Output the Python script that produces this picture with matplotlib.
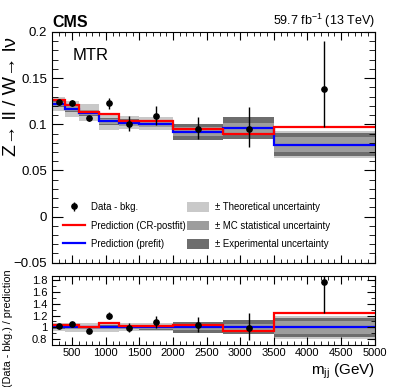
import numpy as np
import matplotlib
matplotlib.use("Agg")
import matplotlib.pyplot as plt
from matplotlib.lines import Line2D
from matplotlib.patches import Patch
from matplotlib.ticker import MultipleLocator

plt.rcParams['font.family'] = ['Liberation Sans', 'DejaVu Sans']
plt.rcParams['mathtext.fontset'] = 'custom'
plt.rcParams['mathtext.rm'] = 'Liberation Sans'
plt.rcParams['mathtext.it'] = 'Liberation Sans'

# ---- data ----
bin_edges = [200, 400, 600, 900, 1200, 1500, 2000, 2750, 3500, 5000]
data_x = [300, 500, 750, 1050, 1350, 1750, 2375, 3125, 4250]
data_y = [0.1244, 0.1230, 0.1064, 0.1230, 0.1008, 0.1093, 0.0954, 0.0952, 0.1384]
data_err_lo = [0.003, 0.003, 0.003, 0.006, 0.008, 0.010, 0.011, 0.020, 0.041]
data_err_hi = [0.003, 0.003, 0.003, 0.006, 0.008, 0.010, 0.013, 0.024, 0.052]
pred_prefit = [0.1219, 0.1168, 0.1125, 0.1031, 0.1017, 0.1006, 0.0920, 0.0960, 0.0780]
pred_postfit = [0.1266, 0.1210, 0.1135, 0.1110, 0.1035, 0.1035, 0.0949, 0.0898, 0.0966]
rel_unc_theory = [0.066, 0.075, 0.080, 0.085, 0.068, 0.070, 0.060, 0.080, 0.190]
rel_unc_exp = [0.025, 0.030, 0.030, 0.035, 0.035, 0.040, 0.094, 0.120, 0.165]
rel_unc_mc = [0.020, 0.025, 0.025, 0.030, 0.030, 0.035, 0.050, 0.060, 0.110]

edges = np.array(bin_edges, float)
dx = np.array(data_x, float)
dy = np.array(data_y)
elo = np.array(data_err_lo)
ehi = np.array(data_err_hi)
pre = np.array(pred_prefit)
post = np.array(pred_postfit)
unc = [(np.array(rel_unc_theory), '#c9c9c9'),
       (np.array(rel_unc_exp), '#6d6d6d'),
       (np.array(rel_unc_mc), '#9d9d9d')]

W, H = 399, 387
fig = plt.figure(figsize=(W / 100, H / 100), dpi=100)
ax = fig.add_axes([52 / W, 1 - 262.7 / H, 322.7 / W, 230.7 / H])
axr = fig.add_axes([52 / W, 1 - 345 / H, 322.7 / W, 69 / H])

# main panel
for rel, col in unc:
    ax.stairs(pre * (1 + rel), edges, baseline=pre * (1 - rel), fill=True, color=col, lw=0)
ax.stairs(pre, edges, color='#0000ff', lw=1.6, baseline=None)
ax.stairs(post, edges, color='#ff0000', lw=1.6, baseline=None)
ax.errorbar(dx, dy, yerr=[elo, ehi], fmt='o', color='black', ms=3.8, elinewidth=1.0, capsize=0)

ax.set_xlim(200, 5000)
ax.set_ylim(-0.05, 0.2)
ax.yaxis.set_major_locator(MultipleLocator(0.05))
ax.yaxis.set_minor_locator(MultipleLocator(0.01))
ax.xaxis.set_major_locator(MultipleLocator(500))
ax.xaxis.set_minor_locator(MultipleLocator(100))
ax.set_yticks([-0.05, 0, 0.05, 0.1, 0.15, 0.2])
ax.set_yticklabels(['\u22120.05', '0', '0.05', '0.1', '0.15', '0.2'])
ax.tick_params(axis='both', which='both', direction='in', top=True, right=True, labelsize=9.5)
ax.tick_params(axis='y', which='major', length=8)
ax.tick_params(axis='y', which='minor', length=4)
ax.tick_params(axis='x', which='major', length=6)
ax.tick_params(axis='x', which='minor', length=3)
ax.tick_params(axis='x', labelbottom=False)
ax.set_ylabel('Z\u2192 ll / W\u2192 l\u03bd', fontsize=14)
ax.yaxis.set_label_coords(-0.1, 0.72)

ax.text(0, 1.01, 'CMS', transform=ax.transAxes, fontsize=11.5, fontweight='bold', ha='left', va='bottom')
ax.text(1, 1.01, '59.7 fb$^{-1}$ (13 TeV)', transform=ax.transAxes, fontsize=9, ha='right', va='bottom')
ax.text(0.065, 0.9, 'MTR', transform=ax.transAxes, fontsize=12, ha='left', va='center')

handles = [
    ax.errorbar([], [], yerr=[], fmt='o', color='black', ms=3.8, elinewidth=1.0, capsize=2),
    Line2D([], [], color='#ff0000', lw=1.6),
    Line2D([], [], color='#0000ff', lw=1.6),
    Patch(facecolor='#c9c9c9', edgecolor='none'),
    Patch(facecolor='#9d9d9d', edgecolor='none'),
    Patch(facecolor='#6d6d6d', edgecolor='none'),
]
labels = ['Data - bkg.', 'Prediction (CR-postfit)', 'Prediction (prefit)',
          '\u00b1 Theoretical uncertainty', '\u00b1 MC statistical uncertainty',
          '\u00b1 Experimental uncertainty']
ax.legend(handles, labels, ncol=2, loc='upper left', bbox_to_anchor=(0.034, 0.262),
          frameon=False, fontsize=6.9, handlelength=2.3, handleheight=1.2,
          handletextpad=0.6, columnspacing=0.2, labelspacing=0.85, borderpad=0,
          borderaxespad=0)

# ratio panel
for rel, col in unc:
    axr.stairs(1 + rel, edges, baseline=1 - rel, fill=True, color=col, lw=0)
axr.stairs(pre / pre, edges, color='#0000ff', lw=1.6, baseline=None)
axr.stairs(post / pre, edges, color='#ff0000', lw=1.6, baseline=None)
axr.errorbar(dx, dy / pre, yerr=[elo / pre, ehi / pre], fmt='o', color='black', ms=3.8,
             elinewidth=1.0, capsize=0)
axr.set_xlim(200, 5000)
axr.set_ylim(0.7, 1.87)
axr.yaxis.set_major_locator(MultipleLocator(0.2))
axr.yaxis.set_minor_locator(MultipleLocator(0.1))
axr.xaxis.set_major_locator(MultipleLocator(500))
axr.xaxis.set_minor_locator(MultipleLocator(100))
axr.set_yticks([0.8, 1.0, 1.2, 1.4, 1.6, 1.8])
axr.set_yticklabels(['0.8', '1', '1.2', '1.4', '1.6', '1.8'])
axr.set_xticks([500, 1000, 1500, 2000, 2500, 3000, 3500, 4000, 4500, 5000])
axr.tick_params(axis='both', which='both', direction='in', top=True, right=True, labelsize=8)
axr.tick_params(axis='y', which='major', length=6)
axr.tick_params(axis='y', which='minor', length=3)
axr.tick_params(axis='x', which='major', length=6)
axr.tick_params(axis='x', which='minor', length=3)
axr.tick_params(axis='x', pad=2)
axr.set_ylabel('(Data - bkg.) / prediction', fontsize=7.8)
axr.yaxis.set_label_coords(-0.12, 0.25)
axr.set_xlabel('m$_{\\mathregular{jj}}$ (GeV)', fontsize=11, loc='right', labelpad=3)

fig.savefig('out.png', dpi=100)
